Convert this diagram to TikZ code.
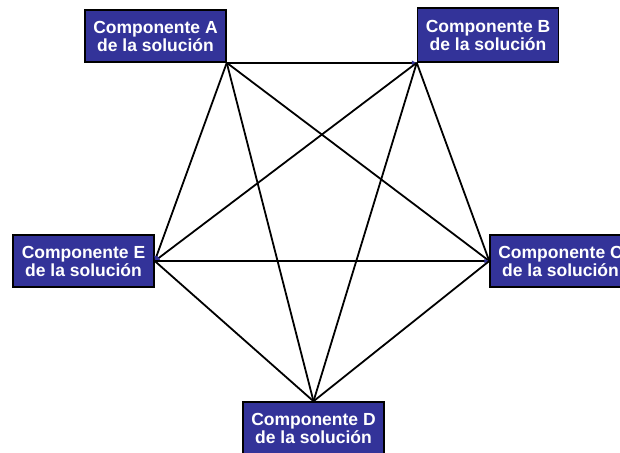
\documentclass[tikz,border=0pt]{standalone}
\usepackage{fontspec}
\setmainfont{Liberation Sans}
\usepackage{tikz}
\usetikzlibrary{positioning, arrows.meta}

\definecolor{compblue}{HTML}{333399}

\begin{document}
\begin{tikzpicture}[
        x=1pt,
        y=-1pt,
        component/.style={
            rectangle,
            draw=black,
            line width=1.5pt,
            fill=compblue,
            text=white,
            font=\bfseries\fontsize{17.5}{18}\selectfont,
            align=center,
            minimum width=141pt,
            minimum height=52pt,
            inner sep=2pt
        },
        link/.style={
            black,
            line width=1.8pt
        },
        tiplink/.style={
            link,
            -{Latex[length=5pt,width=5pt,color=compblue]}
        }
    ]

    % --------------------------------------------------------
    % Frame
    % --------------------------------------------------------

    \useasboundingbox (0,0) rectangle (620,452);

    % --------------------------------------------------------
    % Components
    % --------------------------------------------------------

    \node[
        component
    ]
    (compA)
    at (155.5,36)
    {Componente A\\de la solución};

    \node[
        component,
        minimum height=54pt
    ]
    (compB)
    at (488,35)
    {Componente B\\de la solución};

    \node[
        component
    ]
    (compE)
    at (83.5,261)
    {Componente E\\de la solución};

    \node[
        component
    ]
    (compC)
    at (560.5,261)
    {Componente C\\de la solución};

    \node[
        component
    ]
    (compD)
    at (313.5,428)
    {Componente D\\de la solución};

    % --------------------------------------------------------
    % Links between every pair
    % --------------------------------------------------------

    \draw[tiplink] (compA.south east) -- (compB.south west);
    \draw[tiplink] (compA.south east) -- (compE.east);
    \draw[link]    (compA.south east) -- (compC.west);
    \draw[link]    (compA.south east) -- (compD.north);

    \draw[tiplink] (compB.south west) -- (compE.east);
    \draw[link]    (compB.south west) -- (compC.west);
    \draw[link]    (compB.south west) -- (compD.north);

    \draw[tiplink] (compE.east) -- (compC.west);
    \draw[link]    (compE.east) -- (compD.north);

    \draw[link]    (compC.west) -- (compD.north);

\end{tikzpicture}
\end{document}
